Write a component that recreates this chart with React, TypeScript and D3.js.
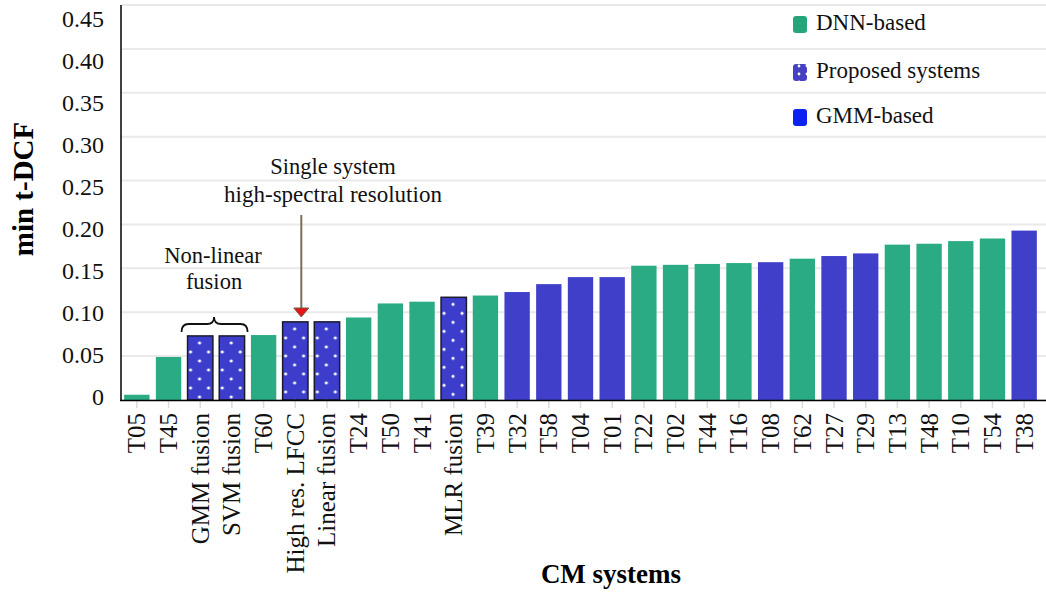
import React from "react";
import * as d3 from "d3";

const categories = ["T05","T45","GMM fusion","SVM fusion","T60","High res. LFCC","Linear fusion","T24","T50","T41","MLR fusion","T39","T32","T58","T04","T01","T22","T02","T44","T16","T08","T62","T27","T29","T13","T48","T10","T54","T38"];
const values = [0.006,0.049,0.073,0.073,0.074,0.089,0.089,0.094,0.110,0.112,0.117,0.119,0.123,0.132,0.140,0.140,0.153,0.154,0.155,0.156,0.157,0.161,0.164,0.167,0.177,0.178,0.181,0.184,0.193];
const groups = ["dnn","dnn","prop","prop","dnn","prop","prop","dnn","dnn","dnn","prop","dnn","gmm","gmm","gmm","gmm","dnn","dnn","dnn","dnn","gmm","dnn","gmm","gmm","dnn","dnn","dnn","dnn","gmm"];
const yTicks = [0,0.05,0.1,0.15,0.2,0.25,0.3,0.35,0.4,0.45];
const yTickLabels = ["0","0.05","0.10","0.15","0.20","0.25","0.30","0.35","0.40","0.45"];
const legendItems = [
  { key: "dnn", label: "DNN-based" },
  { key: "prop", label: "Proposed systems" },
  { key: "gmm", label: "GMM-based" },
];

const W = 1046, H = 592;
const FONT = "'Liberation Serif', 'Times New Roman', serif";
const GREEN = "#2bab84";
const BLUE = "#3f3fca";
const PROP = "#3c3ecb";

export default function App() {
  const x = d3.scaleBand<string>().domain(categories).range([121, 1040]).paddingInner(0.2).paddingOuter(0.1);
  const y = d3.scaleLinear().domain([0, 0.45]).range([400, 5]);
  const yLab = d3.scaleLinear().domain([0, 0.45]).range([397, 19]);
  const bw = x.bandwidth();
  const cx = (c: string) => (x(c) as number) + bw / 2;

  const hrX = cx("High res. LFCC") + 6;
  const gX = cx("GMM fusion"), sX = cx("SVM fusion");
  const bx1 = (x("GMM fusion") as number) - 6, bx2 = (x("SVM fusion") as number) + bw + 3;
  const bm = (gX + sX) / 2 - 2;
  const yb = 332, ym = 324, yt = 317;
  const brace = `M${bx1},${yb} Q${bx1},${ym} ${bx1 + 7},${ym} L${bm - 7},${ym} Q${bm},${ym} ${bm},${yt} Q${bm},${ym} ${bm + 7},${ym} L${bx2 - 7},${ym} Q${bx2},${ym} ${bx2},${yb}`;

  const fillFor = (g: string, i: number) => g === "dnn" ? GREEN : g === "gmm" ? BLUE : `url(#dots${i})`;

  return (
    <svg width={W} height={H} style={{ position: "absolute", left: 0, top: 0, background: "#fff" }} fontFamily={FONT}>
      <defs>
        {categories.map((c, i) => groups[i] === "prop" ? (
          <pattern key={c} id={`dots${i}`} patternUnits="userSpaceOnUse" width={18} height={18} x={x(c) as number} y={y(values[i])}>
            <rect width={18} height={18} fill={PROP} />
            <circle cx={12} cy={7} r={1.6} fill="#fff" />
            <circle cx={3} cy={16} r={1.6} fill="#fff" />
          </pattern>
        ) : null)}
        <pattern id="legdots" patternUnits="userSpaceOnUse" width={8} height={8} x={793} y={63}>
          <rect width={8} height={8} fill="#4541c2" />
          <circle cx={6} cy={3} r={1.4} fill="#fff" />
        </pattern>
      </defs>

      {/* gridlines */}
      {yTicks.map((t) => (
        <line key={t} x1={121} x2={W} y1={y(t)} y2={y(t)} stroke="#e9e9e9" strokeWidth={2} />
      ))}

      {/* x tick marks */}
      {categories.map((c) => (
        <line key={c} x1={cx(c)} x2={cx(c)} y1={401} y2={408} stroke="#dcdcdc" strokeWidth={1.5} />
      ))}

      {/* bars */}
      {categories.map((c, i) => (
        <rect key={c} x={x(c)} y={y(values[i])} width={bw} height={y(0) - y(values[i])}
          fill={fillFor(groups[i], i)}
          stroke={groups[i] === "prop" ? "#1a1a2a" : "none"} strokeWidth={groups[i] === "prop" ? 1.5 : 0} />
      ))}

      {/* axes */}
      <line x1={121} x2={121} y1={5} y2={401} stroke="#000" strokeWidth={1.5} />
      <line x1={120} x2={W} y1={400.5} y2={400.5} stroke="#000" strokeWidth={1.5} />

      {/* y tick labels */}
      {yTicks.map((t, i) => (
        <text key={t} x={104} y={yLab(t)} dy="0.35em" textAnchor="end" fontSize={24} fill="#111">{yTickLabels[i]}</text>
      ))}

      {/* x tick labels */}
      {categories.map((c) => (
        <text key={c} transform={`translate(${cx(c)},${413}) rotate(-90)`} dy="0.34em" textAnchor="end" fontSize={25} fill="#111">{c}</text>
      ))}

      {/* axis titles */}
      <text transform="translate(33,189) rotate(-90)" textAnchor="middle" fontSize={29} fontWeight="bold">min t-DCF</text>
      <text x={611} y={583} textAnchor="middle" fontSize={27} fontWeight="bold">CM systems</text>

      {/* annotations */}
      <text x={333} y={174} textAnchor="middle" fontSize={22.5} fill="#111">Single system</text>
      <text x={333} y={202} textAnchor="middle" fontSize={23} fill="#111">high-spectral resolution</text>
      <line x1={hrX} x2={hrX} y1={215} y2={310} stroke="#7a6f5c" strokeWidth={2} />
      <path d={`M${hrX - 7.5},${308} L${hrX + 7.5},${308} L${hrX},${317} Z`} fill="#e8141a" stroke="#6b5a45" strokeWidth={1} />

      <text x={213} y={263} textAnchor="middle" fontSize={22.5} fill="#111">Non-linear</text>
      <text x={214} y={289} textAnchor="middle" fontSize={22.5} fill="#111">fusion</text>
      <path d={brace} fill="none" stroke="#111" strokeWidth={1.8} />

      {/* legend */}
      {legendItems.map((it, i) => {
        const ly = [30, 78, 123][i];
        const fill = it.key === "dnn" ? "#25a57b" : it.key === "gmm" ? "#0b22f0" : "url(#legdots)";
        return (
          <g key={it.key}>
            <rect x={793} y={ly - 14} width={14} height={17} rx={3} fill={fill} />
            <text x={816} y={ly} fontSize={23} fill="#111">{it.label}</text>
          </g>
        );
      })}
    </svg>
  );
}
